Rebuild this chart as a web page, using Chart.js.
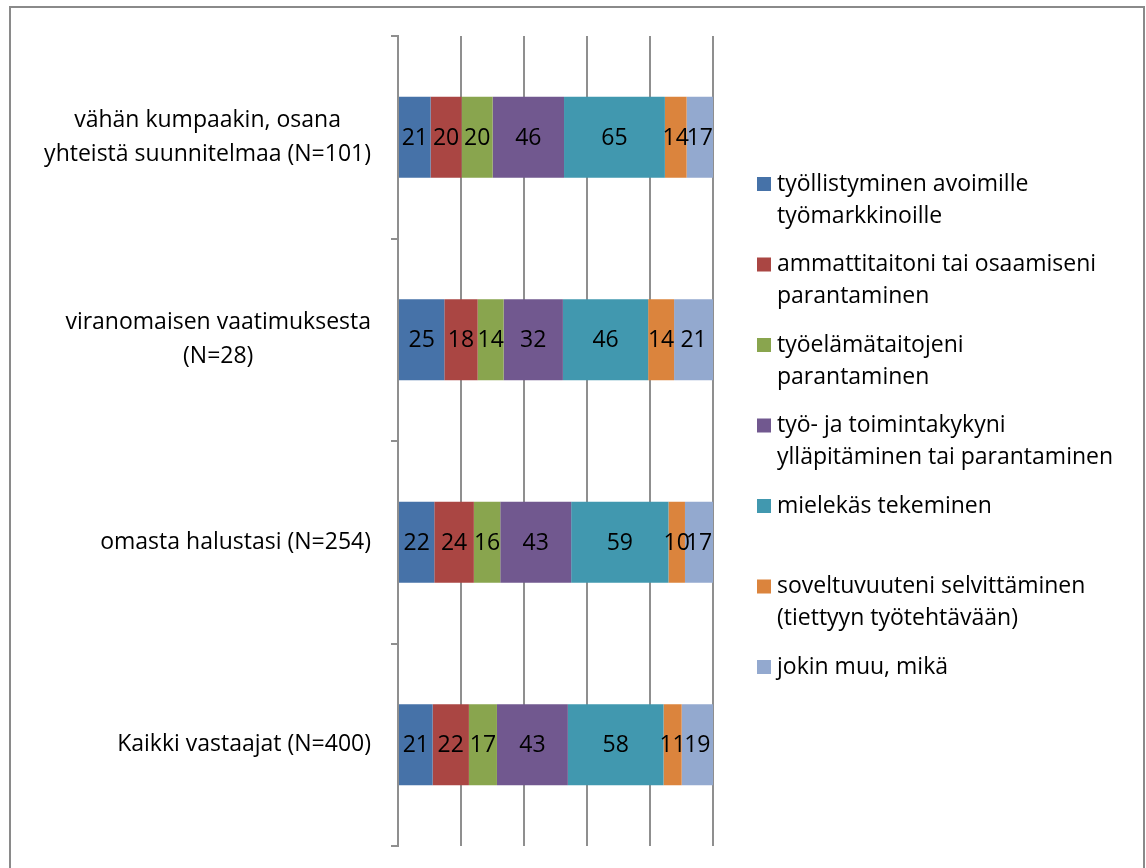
<!DOCTYPE html>
<html>
<head>
<meta charset="utf-8">
<script src="https://cdn.jsdelivr.net/npm/chart.js@4"></script>
<style>
  html, body { margin: 0; padding: 0; background: #fff; }
  #wrap { width: 1146px; height: 868px; position: relative; }
</style>
</head>
<body>
<div id="wrap"><canvas id="chart" width="1146" height="868"></canvas></div>
<script>
// categories (multi-line labels as Excel wrapped them)
const categories = [
    ['vähän kumpaakin, osana', 'yhteistä suunnitelmaa (N=101)'],
    ['viranomaisen vaatimuksesta', '(N=28)'],
    ['omasta halustasi (N=254)'],
    ['Kaikki vastaajat (N=400)']
];

// series names, split the way the legend shows them
const seriesNames = [
    ['työllistyminen avoimille', 'työmarkkinoille'],
    ['ammattitaitoni tai osaamiseni', 'parantaminen'],
    ['työelämätaitojeni', 'parantaminen'],
    ['työ- ja toimintakykyni', 'ylläpitäminen tai parantaminen'],
    ['mielekäs tekeminen'],
    ['soveltuvuuteni selvittäminen', '(tiettyyn työtehtävään)'],
    ['jokin muu, mikä']
];

// counts per category (same order as categories)
const tyollistyminen = [21, 25, 22, 21];
const ammattitaito   = [20, 18, 24, 22];
const tyoelama       = [20, 14, 16, 17];
const toimintakyky   = [46, 32, 43, 43];
const mielekas       = [65, 46, 59, 58];
const soveltuvuus    = [14, 14, 10, 11];
const jokinMuu       = [17, 21, 17, 19];

const seriesValues = [tyollistyminen, ammattitaito, tyoelama, toimintakyky, mielekas, soveltuvuus, jokinMuu];
const colors = ['#4672A8', '#AA4643', '#89A54E', '#71588F', '#4198AF', '#DB843D', '#93A9CF'];

const FONT = '23px "Open Sans", sans-serif';

// 100 % stacked: each bar scaled to its own total
const totals = categories.map((_, j) => seriesValues.reduce((s, arr) => s + arr[j], 0));

const datasets = seriesValues.map((vals, i) => ({
    label: seriesNames[i].join(' '),
    data: vals.map((v, j) => v / totals[j] * 100),
    raw: vals,
    backgroundColor: colors[i],
    borderWidth: 0,
    categoryPercentage: 1,
    barPercentage: 0.4
}));

// frame round the whole chart
const framePlugin = {
    id: 'frame',
    beforeDraw(chart) {
        const ctx = chart.ctx;
        ctx.save();
        ctx.fillStyle = '#fff';
        ctx.fillRect(0, 0, chart.width, chart.height);
        ctx.strokeStyle = '#8a8a8a';
        ctx.lineWidth = 2;
        ctx.strokeRect(10, 7, 1134, 900);
        ctx.restore();
    }
};

// value labels in the middle of each segment
const valueLabels = {
    id: 'valueLabels',
    afterDatasetsDraw(chart) {
        const ctx = chart.ctx;
        ctx.save();
        ctx.font = FONT;
        ctx.fillStyle = '#000';
        ctx.textAlign = 'center';
        ctx.textBaseline = 'middle';
        chart.data.datasets.forEach((ds, i) => {
            chart.getDatasetMeta(i).data.forEach((bar, j) => {
                const p = bar.getCenterPoint();
                ctx.fillText(String(ds.raw[j]), p.x, p.y + 1);
            });
        });
        ctx.restore();
    }
};

// category labels: lines centred on each other, block right-aligned to the axis
const categoryLabels = {
    id: 'categoryLabels',
    afterDraw(chart) {
        const ctx = chart.ctx;
        const y = chart.scales.y;
        const right = 371;
        const lineH = 34;
        ctx.save();
        ctx.font = FONT;
        ctx.fillStyle = '#000';
        ctx.textAlign = 'center';
        ctx.textBaseline = 'middle';
        categories.forEach((lines, j) => {
            const maxW = Math.max(...lines.map(l => ctx.measureText(l).width));
            const cx = right - maxW / 2;
            const cy = y.getPixelForValue(j);
            const top = cy - (lines.length - 1) * lineH / 2;
            lines.forEach((l, k) => ctx.fillText(l, cx, top + k * lineH));
        });
        ctx.restore();
    }
};

// legend on the right with wrapped entries
const sideLegend = {
    id: 'sideLegend',
    afterDraw(chart) {
        const ctx = chart.ctx;
        ctx.save();
        ctx.font = FONT;
        ctx.textBaseline = 'middle';
        ctx.textAlign = 'left';
        seriesNames.forEach((lines, i) => {
            const y0 = 184 + i * 80.5;
            ctx.fillStyle = colors[i];
            ctx.fillRect(757, y0 - 7, 14, 14);
            ctx.fillStyle = '#000';
            lines.forEach((l, k) => ctx.fillText(l, 777, y0 + k * 32));
        });
        ctx.restore();
    }
};

new Chart(document.getElementById('chart'), {
    type: 'bar',
    data: { labels: categories.map(c => c.join(' ')), datasets },
    options: {
        indexAxis: 'y',
        responsive: false,
        animation: false,
        layout: { padding: { left: 0, top: 36, right: 433, bottom: 22 } },
        plugins: { legend: { display: false }, tooltip: { enabled: false } },
        scales: {
            x: {
                stacked: true,
                min: 0,
                max: 100,
                ticks: { display: false, stepSize: 20 },
                grid: { color: '#8f8f8f', lineWidth: 2, drawTicks: false },
                border: { display: false },
                afterFit(s) { s.height = 0; }
            },
            y: {
                stacked: true,
                ticks: { display: false },
                grid: { drawOnChartArea: false, drawTicks: true, tickLength: 7, color: '#8f8f8f', lineWidth: 2, offset: true },
                border: { display: true, color: '#8f8f8f', width: 2 },
                afterFit(s) { s.width = 398; }
            }
        }
    },
    plugins: [framePlugin, valueLabels, categoryLabels, sideLegend]
});
</script>
</body>
</html>
